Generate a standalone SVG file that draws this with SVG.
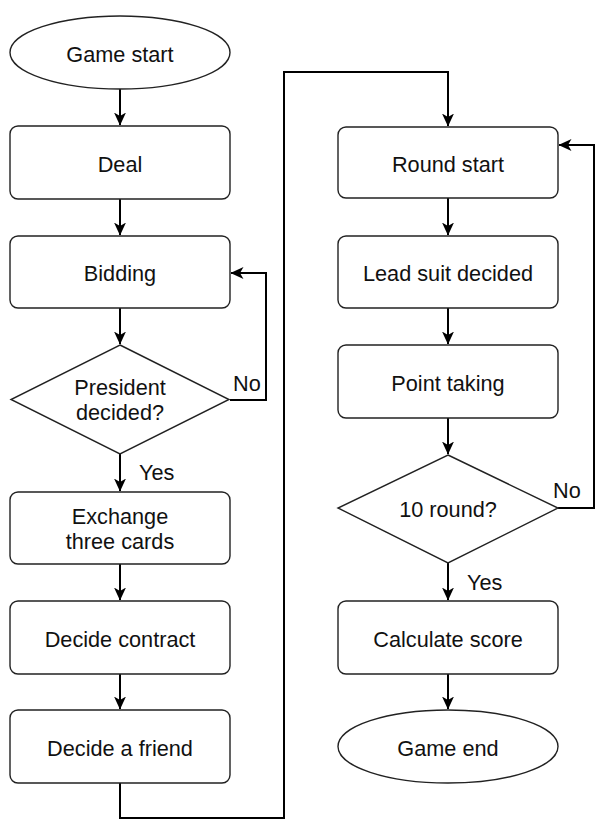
<svg xmlns="http://www.w3.org/2000/svg" width="615" height="823" viewBox="0 0 615 823">
<style>
.s{fill:#fff;stroke:#222;stroke-width:1.4}
.t{font-family:"Liberation Sans",Arial,sans-serif;font-size:21.7px;fill:#111;text-anchor:middle}
.l{font-family:"Liberation Sans",Arial,sans-serif;font-size:21.7px;fill:#111}
.c{fill:none;stroke:#000;stroke-width:2}
</style>
<defs>
<marker id="a" viewBox="0 0 13 12" refX="12.5" refY="6" markerWidth="13" markerHeight="12" markerUnits="userSpaceOnUse" orient="auto">
<path d="M0,0 L13,6 L0,12 L3.5,6 Z" fill="#000"/>
</marker>
</defs>
<g id="connectors">
<path class="c" d="M120,89 V125" marker-end="url(#a)"/>
<path class="c" d="M120,199 V235" marker-end="url(#a)"/>
<path class="c" d="M120,308 V344" marker-end="url(#a)"/>
<path class="c" d="M230,400 H266 V273 H231" marker-end="url(#a)"/>
<path class="c" d="M120,454 V491" marker-end="url(#a)"/>
<path class="c" d="M120,564 V600" marker-end="url(#a)"/>
<path class="c" d="M120,674 V709" marker-end="url(#a)"/>
<path class="c" d="M120,783 V818 H284 V72 H448 V126" marker-end="url(#a)"/>
<path class="c" d="M448,198 V235" marker-end="url(#a)"/>
<path class="c" d="M448,308 V344" marker-end="url(#a)"/>
<path class="c" d="M448,418 V454" marker-end="url(#a)"/>
<path class="c" d="M558,508 H594 V145 H559" marker-end="url(#a)"/>
<path class="c" d="M448,563 V600" marker-end="url(#a)"/>
<path class="c" d="M448,674 V709" marker-end="url(#a)"/>
<text class="l" x="233" y="391">No</text>
<text class="l" x="139" y="480">Yes</text>
<text class="l" x="553" y="498">No</text>
<text class="l" x="467" y="590">Yes</text>
</g>
<g id="game-start"><ellipse class="s" cx="120" cy="52.5" rx="110" ry="36.5"/><text class="t" x="120" y="62">Game start</text></g>
<g id="deal"><rect class="s" x="10" y="126" width="220" height="73" rx="8"/><text class="t" x="120" y="172">Deal</text></g>
<g id="bidding"><rect class="s" x="10" y="236" width="220" height="72" rx="8"/><text class="t" x="120" y="281">Bidding</text></g>
<g id="president-decided"><path class="s" d="M120,345 L229,399.5 L120,454 L11,399.5 Z"/><text class="t" x="120" y="395">President</text><text class="t" x="120" y="420">decided?</text></g>
<g id="exchange"><rect class="s" x="10" y="492" width="220" height="72" rx="8"/><text class="t" x="120" y="524">Exchange</text><text class="t" x="120" y="549">three cards</text></g>
<g id="decide-contract"><rect class="s" x="10" y="601" width="220" height="73" rx="8"/><text class="t" x="120" y="647">Decide contract</text></g>
<g id="decide-friend"><rect class="s" x="10" y="710" width="220" height="73" rx="8"/><text class="t" x="120" y="756">Decide a friend</text></g>
<g id="round-start"><rect class="s" x="338" y="127" width="220" height="71" rx="8"/><text class="t" x="448" y="172">Round start</text></g>
<g id="lead-suit"><rect class="s" x="338" y="236" width="220" height="72" rx="8"/><text class="t" x="448" y="281">Lead suit decided</text></g>
<g id="point-taking"><rect class="s" x="338" y="345" width="220" height="73" rx="8"/><text class="t" x="448" y="391">Point taking</text></g>
<g id="ten-round"><path class="s" d="M448,455 L558,508 L448,563 L338,508 Z"/><text class="t" x="448" y="517">10 round?</text></g>
<g id="calculate-score"><rect class="s" x="338" y="601" width="220" height="73" rx="8"/><text class="t" x="448" y="647">Calculate score</text></g>
<g id="game-end"><ellipse class="s" cx="448" cy="746.5" rx="110" ry="36.5"/><text class="t" x="448" y="756">Game end</text></g>
</svg>
